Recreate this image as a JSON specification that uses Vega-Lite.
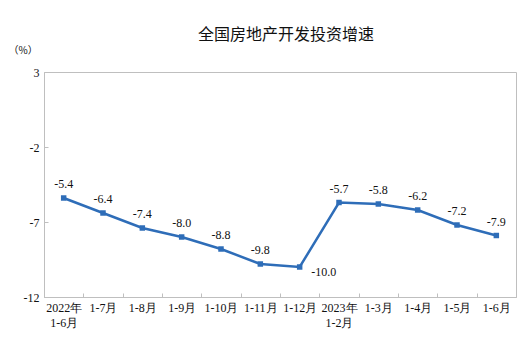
{
  "$schema": "https://vega.github.io/schema/vega-lite/v6.json",
  "width": 472,
  "height": 225,
  "autosize": {"type": "none"},
  "padding": {"left": 44, "top": 72, "right": 7, "bottom": 59},
  "background": "white",
  "title": {
    "text": "全国房地产开发投资增速",
    "font": "Noto Sans CJK SC",
    "fontSize": 16,
    "fontWeight": "normal",
    "color": "#111111",
    "anchor": "middle",
    "dx": 6,
    "offset": 2
  },
  "config": {
    "view": {"stroke": "#bfbfbf", "strokeWidth": 1},
    "font": "Liberation Serif",
    "locale": {"number": {"decimal": ".", "thousands": ",", "grouping": [3], "currency": ["", ""], "minus": "-"}}
  },
  "data": {
    "values": [
      {"m": "2022年|1-6月", "v": -5.4},
      {"m": "1-7月", "v": -6.4},
      {"m": "1-8月", "v": -7.4},
      {"m": "1-9月", "v": -8.0},
      {"m": "1-10月", "v": -8.8},
      {"m": "1-11月", "v": -9.8},
      {"m": "1-12月", "v": -10.0},
      {"m": "2023年|1-2月", "v": -5.7},
      {"m": "1-3月", "v": -5.8},
      {"m": "1-4月", "v": -6.2},
      {"m": "1-5月", "v": -7.2},
      {"m": "1-6月", "v": -7.9}
    ]
  },
  "encoding": {
    "x": {
      "field": "m",
      "type": "ordinal",
      "sort": null,
      "scale": {"type": "band", "paddingInner": 0, "paddingOuter": 0},
      "axis": {
        "title": null,
        "labelAngle": 0,
        "labelExpr": "split(datum.label, '|')",
        "labelFont": "Liberation Serif",
        "labelFontSize": 12,
        "labelColor": "#111111",
        "labelPadding": 9,
        "labelLineHeight": 15,
        "labelBaseline": "top",
        "tickBand": "extent",
        "tickSize": -4,
        "tickColor": "#bfbfbf",
        "domainColor": "#bfbfbf"
      }
    },
    "y": {
      "field": "v",
      "type": "quantitative",
      "scale": {"domain": [-12, 3], "nice": false, "zero": false},
      "axis": {
        "values": [3, -2, -7, -12],
        "grid": false,
        "title": "（%）",
        "titleAngle": 0,
        "titleX": -36,
        "titleY": -22,
        "titleAlign": "left",
        "titleBaseline": "middle",
        "titleFont": "Noto Sans CJK SC",
        "titleFontSize": 10,
        "titleFontWeight": "normal",
        "titleColor": "#111111",
        "labelFont": "Liberation Serif",
        "labelFontSize": 12,
        "labelColor": "#111111",
        "labelPadding": 9,
        "tickSize": -4,
        "tickColor": "#bfbfbf",
        "domainColor": "#bfbfbf"
      }
    }
  },
  "layer": [
    {
      "mark": {"type": "line", "color": "#2E6DB8", "strokeWidth": 2.5},
      "encoding": {}
    },
    {
      "mark": {"type": "square", "color": "#2E6DB8", "opacity": 1, "size": 30}
    },
    {
      "transform": [{"filter": "datum.v != -10"}],
      "mark": {"type": "text", "dy": -14, "fontSize": 12, "font": "Liberation Serif", "color": "#111111"},
      "encoding": {"text": {"field": "v", "type": "quantitative", "format": ".1f"}}
    },
    {
      "transform": [{"filter": "datum.v == -10"}],
      "mark": {"type": "text", "dx": 24, "dy": 5, "fontSize": 12, "font": "Liberation Serif", "color": "#111111"},
      "encoding": {"text": {"field": "v", "type": "quantitative", "format": ".1f"}}
    }
  ]
}
